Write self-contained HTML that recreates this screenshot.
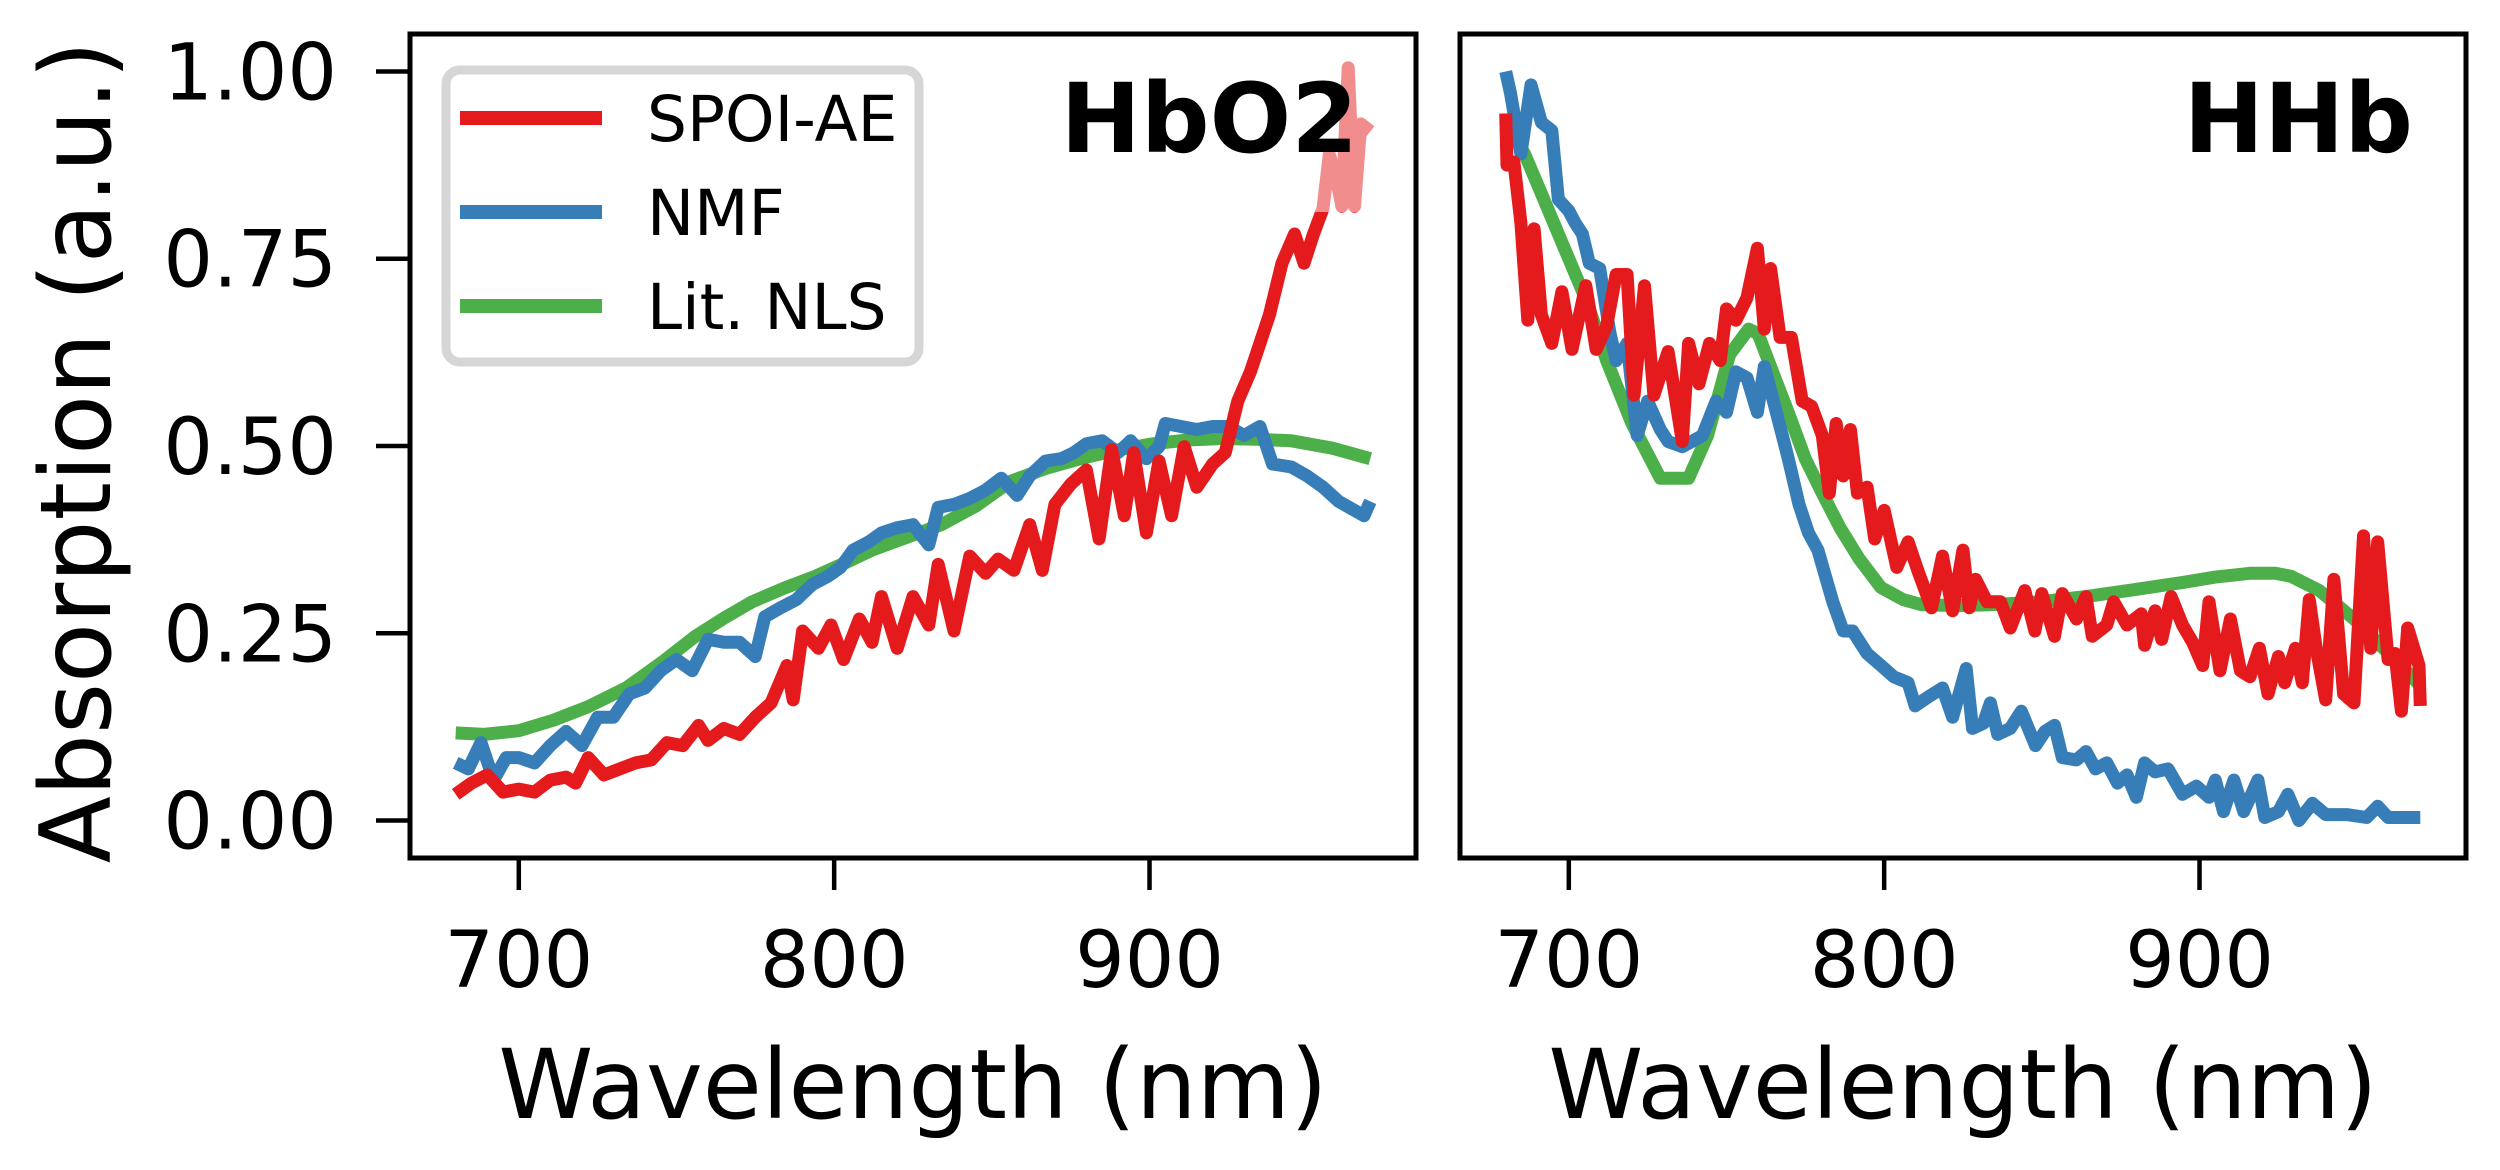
<!DOCTYPE html>
<html><head><meta charset="utf-8"><style>
html,body{margin:0;padding:0;background:#fff;}
svg{display:block;font-family:"DejaVu Sans","Liberation Sans",sans-serif;}
</style></head><body>
<svg id="fig" width="2500" height="1170" viewBox="0 0 2500 1170" xmlns="http://www.w3.org/2000/svg"></svg>
<script>
// ---------- data ----------
const yTicks = [0, 0.25, 0.5, 0.75, 1.0];
const yTickLabels = ["0.00", "0.25", "0.50", "0.75", "1.00"];
const xTicks = [700, 800, 900];
const xTickLabels = ["700", "800", "900"];
const seriesNames = ["SPOI-AE", "NMF", "Lit. NLS"];

const hbo2NlsX = [680,689,700,711,722,734,745,756,765,774,784,794,803,812,823,834,845,856,867,878,889,901,912,923,934,945,958,970];
const hbo2NlsY = [0.117,0.115,0.12,0.134,0.152,0.177,0.21,0.246,0.27,0.292,0.31,0.326,0.343,0.361,0.378,0.395,0.42,0.453,0.47,0.483,0.494,0.503,0.508,0.51,0.509,0.507,0.497,0.483];

const hbo2NmfX = [680,684,688,692,696,700,705,710,715,720,725,730,735,740,745,750,755,760,765,770,775,778,783,788,793,798,802,806,811,815,820,825,830,833,838,843,848,853,858,862,867,872,876,880,885,890,894,899,903,905,910,915,920,925,930,935,939,945,950,955,960,965,968,970];
const hbo2NmfY = [0.077,0.069,0.104,0.054,0.084,0.084,0.077,0.10,0.119,0.10,0.138,0.138,0.169,0.177,0.20,0.215,0.20,0.242,0.238,0.238,0.219,0.272,0.284,0.295,0.315,0.326,0.338,0.361,0.372,0.384,0.391,0.395,0.368,0.418,0.422,0.43,0.441,0.457,0.434,0.46,0.48,0.483,0.491,0.503,0.507,0.491,0.507,0.483,0.499,0.53,0.526,0.522,0.526,0.526,0.514,0.526,0.476,0.472,0.46,0.445,0.426,0.414,0.407,0.426];

const hbo2AeX = [680,685,690,695,700,705,710,715,718,722,727,732,737,742,747,752,757,760,765,770,775,780,785,787,790,795,799,803,808,812,815,820,825,830,833,838,843,848,852,857,862,866,870,875,880,884,888,892,895,899,903,907,911,915,920,924,928,932,935,938,942,946,949,952,955,957,959,961,963,965,967,970];
const hbo2AeY = [0.035,0.05,0.061,0.038,0.042,0.038,0.054,0.058,0.05,0.084,0.061,0.069,0.077,0.081,0.104,0.10,0.127,0.107,0.123,0.115,0.138,0.157,0.207,0.161,0.253,0.23,0.261,0.215,0.269,0.238,0.299,0.23,0.299,0.261,0.342,0.253,0.353,0.33,0.349,0.334,0.395,0.334,0.422,0.449,0.468,0.376,0.495,0.407,0.491,0.384,0.48,0.407,0.499,0.445,0.476,0.491,0.56,0.599,0.637,0.675,0.744,0.783,0.744,0.783,0.817,0.889,0.862,0.82,1.005,0.82,0.93,0.92];

const hhbNlsX = [680,686,692,699,706,712,720,729,738,744,751,757,760,764,770,775,780,786,792,799,806,812,823,834,849,864,879,895,905,916,924,929,938,949,960,970];
const hhbNlsY = [0.93,0.89,0.83,0.76,0.69,0.614,0.53,0.457,0.457,0.514,0.622,0.656,0.65,0.606,0.54,0.483,0.44,0.391,0.35,0.311,0.295,0.288,0.287,0.288,0.292,0.299,0.308,0.318,0.325,0.33,0.33,0.326,0.307,0.269,0.223,0.18];

const hhbNmfX = [680,681.5,684.8,688,691.3,694.6,696.7,700,702,704.3,706.5,709.8,713,715,718.5,721.7,725,729,731.5,736,739,742.4,746.7,750,753,756.5,759.8,762,766.3,769.6,773,776,779,783.7,787,790,794.6,799,803,807.6,809.8,814,818.5,821.7,826,828,831.5,833.7,836,840,843.5,848,851,854,856.5,861,864,867,870.6,874,877,880,882.6,885.9,890,894.6,899,903,905,907.6,910.9,914,918.5,920.7,925,928,931.5,935.8,940,946.7,953,956.5,959.8,970];
const hhbNmfY = [1.0,0.971,0.89,0.982,0.932,0.921,0.829,0.814,0.798,0.783,0.744,0.737,0.652,0.614,0.637,0.514,0.56,0.522,0.506,0.499,0.506,0.514,0.56,0.545,0.599,0.591,0.545,0.606,0.537,0.483,0.422,0.384,0.361,0.292,0.253,0.253,0.223,0.207,0.192,0.184,0.153,0.165,0.177,0.138,0.203,0.123,0.13,0.157,0.115,0.123,0.146,0.10,0.119,0.127,0.084,0.081,0.092,0.069,0.077,0.05,0.061,0.031,0.077,0.065,0.069,0.035,0.046,0.031,0.054,0.012,0.054,0.012,0.054,0.004,0.012,0.035,0.0,0.023,0.008,0.008,0.004,0.019,0.004,0.004];

const hhbAeX = [680,680.4,682.6,684.8,687,689,691.3,694.6,697.8,701,705.4,708.7,712,715,718.5,720.7,724,727,731.5,736,738,741.3,744.6,748,750,753,756.5,759.8,762,764,767,770.6,774,777,780.4,782.6,784.8,787,789.3,791.5,794.6,797,800,804,807.6,811,815,818.5,821.7,825,827,829,832.6,836.9,840,844.6,847.8,850,854,856.5,861,864,866,870.6,872.8,877,881.5,882.6,885.9,888,891,894.6,897.8,901,903,906.5,909.8,913,916,919,921.7,925,927,930.4,932.6,934.8,937,940,942.6,945.7,949,952,954.3,956.5,959.8,962,964,966,969.6,970];
const hhbAeY = [0.944,0.875,0.879,0.798,0.668,0.79,0.675,0.637,0.706,0.629,0.714,0.629,0.66,0.729,0.729,0.568,0.714,0.568,0.626,0.506,0.637,0.583,0.637,0.614,0.683,0.668,0.698,0.764,0.656,0.737,0.645,0.645,0.56,0.553,0.514,0.437,0.53,0.46,0.522,0.437,0.445,0.376,0.414,0.338,0.372,0.33,0.284,0.353,0.28,0.361,0.284,0.322,0.292,0.292,0.257,0.307,0.253,0.303,0.246,0.303,0.269,0.299,0.246,0.261,0.292,0.261,0.276,0.234,0.28,0.242,0.299,0.261,0.238,0.207,0.292,0.2,0.269,0.2,0.192,0.23,0.169,0.219,0.184,0.23,0.184,0.295,0.23,0.161,0.322,0.169,0.157,0.38,0.23,0.372,0.215,0.223,0.146,0.257,0.207,0.153];

// ---------- layout ----------
const NS = "http://www.w3.org/2000/svg";
const svg = document.getElementById("fig");
const COLORS = ["#e41a1c", "#377eb8", "#4daf4a"];
const TOP = 34, BOTTOM = 858, XMIN = 665.5, XMAX = 984.5, YMIN = -0.05, YMAX = 1.05;

function mk(tag, attrs, parent) {
  const el = document.createElementNS(NS, tag);
  for (const k in attrs) el.setAttribute(k, attrs[k]);
  (parent || svg).appendChild(el);
  return el;
}
function makeAxes(left, right) {
  return {
    x: v => left + (v - XMIN) / (XMAX - XMIN) * (right - left),
    y: v => BOTTOM - (v - YMIN) / (YMAX - YMIN) * (BOTTOM - TOP)
  };
}
function drawLine(ax, xs, ys, color, name, parent) {
  const pts = xs.map((x, i) => ax.x(x).toFixed(1) + "," + ax.y(ys[i]).toFixed(1)).join(" ");
  const pl = mk("polyline", {points: pts, fill: "none", stroke: color, "stroke-width": 13, "stroke-linejoin": "round", "stroke-linecap": "butt"}, parent);
  
  
}

function panel(id, left, right, data, title, titleBox, showY) {
  const ax = makeAxes(left, right);
  const g = mk("g", {});
  
  
  const clip = mk("clipPath", {id: id + "-clip"}, g);
  mk("rect", {x: left, y: TOP, width: right - left, height: BOTTOM - TOP}, clip);
  const lines = mk("g", {"clip-path": "url(#" + id + "-clip)"}, g);
  drawLine(ax, data[2][0], data[2][1], COLORS[2], id + '-lit-nls-line', lines);
  drawLine(ax, data[1][0], data[1][1], COLORS[1], id + '-nmf-line', lines);
  drawLine(ax, data[0][0], data[0][1], COLORS[0], id + '-spoi-ae-line', lines);
  const tb = mk("rect", {x: titleBox[0], y: TOP + 3, width: right - 3 - titleBox[0], height: titleBox[1], fill: "#fff", "fill-opacity": 0.5}, g);
  
  
  const t = mk("text", {x: title[1], y: 152, "text-anchor": "end", "font-size": 96, "font-weight": "bold", fill: "#000"}, g);
  t.textContent = title[0];
  
  
  const fr = mk("rect", {x: left, y: TOP, width: right - left, height: BOTTOM - TOP, fill: "none", stroke: "#000", "stroke-width": 5}, g);
  
  
  xTicks.forEach((v, i) => {
    const x = ax.x(v);
    const tk = mk("line", {x1: x, x2: x, y1: BOTTOM, y2: BOTTOM + 32, stroke: "#000", "stroke-width": 4.5}, g);
    
    
    const lb = mk("text", {x: x, y: 987, "text-anchor": "middle", "font-size": 78, fill: "#000"}, g);
    lb.textContent = xTickLabels[i];
    
    
  });
  const xl = mk("text", {x: (left + right) / 2, y: 1118, "text-anchor": "middle", "font-size": 96, fill: "#000"}, g);
  xl.textContent = "Wavelength (nm)";
  
  
  if (showY) {
    yTicks.forEach((v, i) => {
      const y = ax.y(v);
      const tk = mk("line", {x1: left - 34, x2: left, y1: y, y2: y, stroke: "#000", "stroke-width": 4.5}, g);
      
      
      const lb = mk("text", {x: 337, y: y + 28, "text-anchor": "end", "font-size": 78, fill: "#000"}, g);
      lb.textContent = yTickLabels[i];
      
      
    });
    const yl = mk("text", {x: 0, y: 0, "text-anchor": "middle", "font-size": 98, fill: "#000", transform: "translate(110,452) rotate(-90)"}, g);
    yl.textContent = "Absorption (a.u.)";
    
    
  }
  return g;
}

panel("hbo2", 410, 1416,
  [[hbo2AeX, hbo2AeY], [hbo2NmfX, hbo2NmfY], [hbo2NlsX, hbo2NlsY]],
  ["HbO2", 1358], [1025, 175], true);
panel("hhb", 1460, 2466,
  [[hhbAeX, hhbAeY], [hhbNmfX, hhbNmfY], [hhbNlsX, hhbNlsY]],
  ["HHb", 2413], [2143, 175], false);

const lg = mk("g", {});


const lbx = mk("rect", {x: 446, y: 70, width: 473, height: 292, rx: 14, ry: 14, fill: "#fff", stroke: "#d6d6d6", "stroke-width": 9}, lg);


const legY = [118, 212, 306];
seriesNames.forEach((n, i) => {
  const ln = mk("line", {x1: 460, x2: 602, y1: legY[i], y2: legY[i], stroke: COLORS[i], "stroke-width": 14}, lg);
  
  
  const tx = mk("text", {x: 647, y: legY[i] + 23, "font-size": 63, fill: "#000"}, lg);
  tx.textContent = n;
  
  
});
</script>
</body></html>
